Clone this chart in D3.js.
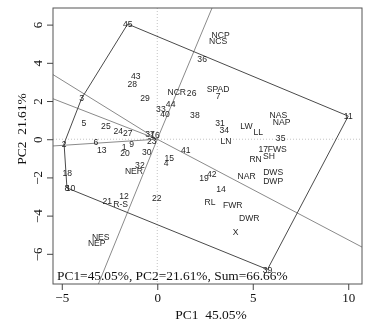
<!DOCTYPE html>
<html>
<head>
<meta charset="utf-8">
<script src="https://cdn.jsdelivr.net/npm/d3@7"></script>
<style>
  body { margin: 0; background: #fff; }
  #chart { transform: translateZ(0); }
  svg text { -webkit-font-smoothing: antialiased; }
</style>
</head>
<body>
<svg id="chart" width="370" height="325"></svg>
<script>
// Genotype scores (PC1, PC2)
const genotypes = ["1","2","3","4","5","6","7","8","9","10","11","12","13","14","15","16","17","18","19","20","21","22","23","24","25","26","27","28","29","30","31","32","33","34","35","36","37","38","39","40","41","42","43","44","45"];
const genoPC1 = [-1.73,-4.88,-3.96,0.46,-3.84,-3.21,3.19,-4.73,-1.34,-4.54,10.00,-1.74,-2.91,3.34,0.63,-0.12,5.55,-4.71,2.45,-1.69,-2.62,-0.03,-0.29,-2.04,-2.69,1.80,-1.55,-1.31,-0.64,-0.55,3.28,-0.91,0.19,3.51,6.46,2.35,-0.38,1.97,5.77,0.40,1.49,2.85,-1.12,0.70,-1.55];
const genoPC2 = [-0.39,-0.23,2.14,-1.23,0.88,-0.16,2.28,-2.55,-0.25,-2.57,1.21,-2.97,-0.57,-2.62,-1.00,0.25,-0.53,-1.75,-2.05,-0.71,-3.22,-3.06,-0.09,0.45,0.71,2.40,0.31,2.87,2.14,-0.65,0.83,-1.35,1.58,0.48,0.05,4.18,0.27,1.27,-6.82,1.30,-0.57,-1.84,3.31,1.84,6.03];

// Trait scores (PC1, PC2)
const traits = ["NCP","NCS","SPAD","NCR","LW","LL","LN","NAS","NAP","FWS","SH","RN","NAR","DWS","DWP","NER","R-S","RL","FWR","DWR","X","NES","NEP"];
const traitPC1 = [3.32,3.19,3.19,1.02,4.67,5.29,3.60,6.34,6.51,6.28,5.85,5.15,4.68,6.07,6.07,-1.22,-1.92,2.76,3.95,4.82,4.10,-2.96,-3.17];
const traitPC2 = [5.46,5.16,2.63,2.46,0.72,0.39,-0.09,1.27,0.92,-0.53,-0.88,-1.05,-1.91,-1.70,-2.19,-1.65,-3.41,-3.27,-3.45,-4.14,-4.87,-5.10,-5.45];

const xTicks = [-5, 0, 5, 10];
const yTicks = [-6, -4, -2, 0, 2, 4, 6];
const pc1Var = 45.05, pc2Var = 21.61;

const svg = d3.select("#chart");
const plotL = 53, plotR = 362, plotT = 8, plotB = 284;

const x = d3.scaleLinear().domain([-5.46, 10.72]).range([plotL, plotR]);
const y = d3.scaleLinear().domain([-7.58, 6.87]).range([plotB, plotT]);

const serif = "'Liberation Serif','Times New Roman',serif";
const sans = "'Liberation Sans',Arial,Helvetica,sans-serif";

svg.append("defs").append("clipPath").attr("id", "plotClip")
  .append("rect").attr("x", plotL).attr("y", plotT)
  .attr("width", plotR - plotL).attr("height", plotB - plotT);

const plot = svg.append("g").attr("clip-path", "url(#plotClip)");

// dotted reference lines through the origin
plot.append("line")
  .attr("x1", x(0)).attr("x2", x(0)).attr("y1", plotT).attr("y2", plotB)
  .attr("stroke", "#c4c4c4").attr("stroke-width", 1).attr("stroke-dasharray", "1,2");
plot.append("line")
  .attr("x1", plotL).attr("x2", plotR).attr("y1", y(0)).attr("y2", y(0))
  .attr("stroke", "#c4c4c4").attr("stroke-width", 1).attr("stroke-dasharray", "1,2");

// convex hull of the genotype scores (which-won-where polygon)
const genoPts = genotypes.map((g, i) => [genoPC1[i], genoPC2[i]]);
const hull = d3.polygonHull(genoPts);

// rays from the origin, perpendicular to each side of the hull
hull.forEach((p1, i) => {
  const p2 = hull[(i + 1) % hull.length];
  const dx = p2[0] - p1[0], dy = p2[1] - p1[1];
  const t = -(p1[0] * dx + p1[1] * dy) / (dx * dx + dy * dy);
  const fx = p1[0] + t * dx, fy = p1[1] + t * dy;
  const k = 40 / Math.hypot(fx, fy);
  plot.append("line")
    .attr("x1", x(0)).attr("y1", y(0))
    .attr("x2", x(fx * k)).attr("y2", y(fy * k))
    .attr("stroke", "#8a8a8a").attr("stroke-width", 1);
});

plot.append("path")
  .attr("d", d3.line().x(d => x(d[0])).y(d => y(d[1]))(hull) + "Z")
  .attr("fill", "none").attr("stroke", "#4a4a4a").attr("stroke-width", 1);

// genotype and trait labels
const labelData = genotypes.map((g, i) => ({ name: g, px: genoPC1[i], py: genoPC2[i] }))
  .concat(traits.map((t, i) => ({ name: t, px: traitPC1[i], py: traitPC2[i] })));

plot.selectAll("text.lab").data(labelData).join("text")
  .attr("class", "lab")
  .attr("x", d => x(d.px)).attr("y", d => y(d.py))
  .attr("dy", "0.36em")
  .attr("text-anchor", "middle")
  .attr("font-family", sans).attr("font-size", 8.6)
  .attr("fill", "#262626")
  .text(d => d.name);

// variance summary
plot.append("text")
  .attr("x", plotL + 4).attr("y", plotB - 4)
  .attr("font-family", serif).attr("font-size", 13.4)
  .attr("fill", "#111")
  .text(`PC1=${pc1Var.toFixed(2)}%, PC2=${pc2Var.toFixed(2)}%, Sum=${(pc1Var + pc2Var).toFixed(2)}%`);

// frame
svg.append("rect")
  .attr("x", plotL).attr("y", plotT).attr("width", plotR - plotL).attr("height", plotB - plotT)
  .attr("fill", "none").attr("stroke", "#555").attr("stroke-width", 1);

// axes
const fmt = v => (v < 0 ? "\u2212" + Math.abs(v) : String(v));
const xAxis = svg.append("g").attr("transform", `translate(0,${plotB})`)
  .call(d3.axisBottom(x).tickValues(xTicks).tickSize(6).tickPadding(3).tickFormat(fmt));
const yAxis = svg.append("g").attr("transform", `translate(${plotL},0)`)
  .call(d3.axisLeft(y).tickValues(yTicks).tickSize(6).tickPadding(4).tickFormat(fmt));

[xAxis, yAxis].forEach(a => {
  a.select(".domain").remove();
  a.selectAll(".tick line").attr("stroke", "#444");
  a.selectAll(".tick text").attr("font-family", serif).attr("font-size", 13).attr("fill", "#111");
});
// y tick labels read bottom-to-top
yAxis.selectAll(".tick text")
  .attr("x", null).attr("y", 0).attr("dy", "0")
  .attr("text-anchor", "middle")
  .attr("transform", "translate(-11,0) rotate(-90)");

// axis titles
svg.append("text")
  .attr("x", 211).attr("y", 319)
  .attr("text-anchor", "middle").style("white-space", "pre")
  .attr("font-family", serif).attr("font-size", 13.5).attr("fill", "#111")
  .text(`PC1  ${pc1Var.toFixed(2)}%`);
svg.append("text")
  .attr("transform", `translate(26,129) rotate(-90)`)
  .attr("text-anchor", "middle").style("white-space", "pre")
  .attr("font-family", serif).attr("font-size", 13.5).attr("fill", "#111")
  .text(`PC2  ${pc2Var.toFixed(2)}%`);
</script>
</body>
</html>
